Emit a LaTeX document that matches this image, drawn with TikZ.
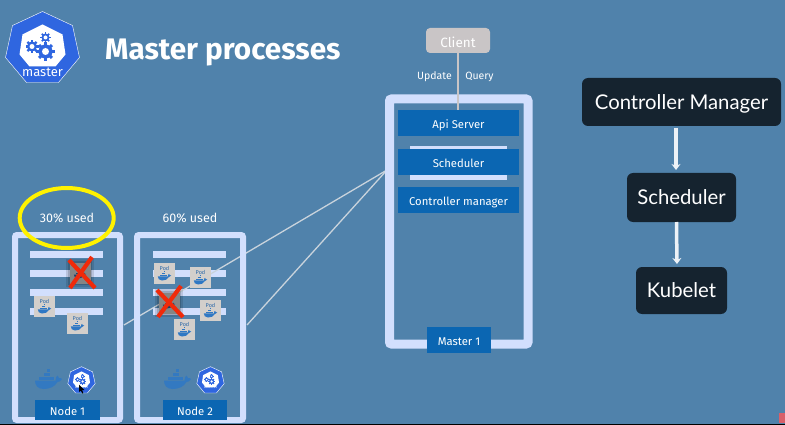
\documentclass[tikz,border=0pt]{standalone}
\usepackage{fontspec}
\setmainfont{Fira Sans}
\newfontfamily\gillfont{Lato}
\usetikzlibrary{arrows.meta,shapes.geometric}
\definecolor{bgblue}{HTML}{5082AB}
\definecolor{framecol}{HTML}{D2DFFD}
\definecolor{boxblue}{HTML}{0B66B2}
\definecolor{clientgrey}{HTML}{C9C5C6}
\definecolor{podgrey}{HTML}{D3CFCB}
\definecolor{darkbox}{HTML}{15232F}
\definecolor{kblue}{HTML}{2F66E0}
\definecolor{whaleblue}{HTML}{2F78C4}
\definecolor{linegrey}{HTML}{C9D3DC}
\definecolor{xred}{HTML}{F02A0A}
\definecolor{pinkmark}{HTML}{D9606A}
\newcommand{\gearat}[3]{%
  \foreach \a in {0,45,90,135}{\fill[kblue,shift={(#1,#2)},rotate=\a] (-.22*#3,-1.3*#3) rectangle (.22*#3,1.3*#3);}
  \fill[kblue] (#1,#2) circle (#3);
  \fill[white] (#1,#2) circle (.5*#3);}
\tikzset{
  x=1pt,y=-1pt,
  whale/.pic={
    \fill[pic actions] (-13.5,1.5) -- (7,1.5) .. controls (7,-1) and (8,-3) .. (9,-3.5)
      .. controls (10,-2) and (10.5,-1) .. (10.5,-.8) .. controls (11.5,-1.2) and (13,-1) .. (13.5,0)
      .. controls (12,2.5) and (10,3) .. (9,3) .. controls (6,8) and (1,10) .. (-5,10)
      .. controls (-11,10) and (-13.5,6) .. (-13.5,1.5) -- cycle;
    \fill[pic actions] (-9.5,-2) rectangle (5,1);
    \fill[pic actions] (-5,-6) rectangle (1.5,-2.6);
    \fill[pic actions] (-1.5,-10) rectangle (1.5,-6.6);
  },
  kube/.pic={
    \fill[kblue,draw=white,line width=.4pt] (0,-36) -- (30,-22) -- (37,10) -- (16,35) -- (-16,35) -- (-37,10) -- (-30,-22) -- cycle;
    \fill[white] (0,-23) -- (20,-13) -- (23,7) -- (13,19) -- (-13,19) -- (-23,7) -- (-20,-13) -- cycle;
    \gearat{3}{4}{7}
    \gearat{-10.5}{-1}{5}
    \gearat{3}{-10}{4}
  },
  podbox/.style={fill=podgrey,minimum width=21pt,minimum height=21pt,inner sep=0pt,outer sep=0pt},
  podlabel/.style={text=whaleblue!85!black,font=\fontsize{5.5}{6}\selectfont,inner sep=0pt},
  barline/.style={fill=framecol,draw=none},
  frameb/.style={draw=framecol,rounded corners=2pt,inner sep=0pt,outer sep=0pt,anchor=north west},
  bluebox/.style={fill=boxblue,text=white,inner sep=0pt,outer sep=0pt,text height=11pt,text depth=0pt,font=\fontsize{11.3}{13}\selectfont},
  smalltext/.style={text=white,inner sep=0pt,font=\fontsize{12.5}{14}\selectfont},
  darknode/.style={fill=darkbox,text=white,rounded corners=6pt,inner sep=0pt,outer sep=0pt,text depth=0pt,font=\gillfont\fontsize{20.3}{24}\selectfont},
  wire/.style={draw=linegrey,line width=1.3pt},
  cross/.style={draw=xred,line width=4.2pt},
  flowarrow/.style={draw=white!90!bgblue,line width=3.5pt,-{Stealth[length=6pt,width=9pt]}},
}
\begin{document}
\begin{tikzpicture}
\useasboundingbox (0,0) rectangle (785,425);
\fill[bgblue] (0,0) rectangle (785,425);
\fill[black] (0,424) rectangle (785,425);
\fill[pinkmark] (779,413) rectangle (785,423);

% logo and title
\pic at (42.5,47.5) {kube};
\node[text=white,inner sep=0pt,font=\fontsize{13}{14}\selectfont] (mastertext) at (42.5,72) {master};
\node[text=white,inner sep=0pt,anchor=west,font=\fontsize{29.7}{34}\selectfont\bfseries] (title) at (105,53) {Master processes};

% bars of the nodes
\foreach \bx in {30,153}{
  \foreach \by in {251,270,289,308}{
    \fill[barline] (\bx,\by) rectangle ++(73,7);
  }
}

% wires to the master
\coordinate (w1) at (124,325);
\coordinate (w2) at (247,325);
\coordinate (mtarget) at (387,170);
\draw[wire] (w1) -- (mtarget);
\draw[wire] (w2) -- (mtarget);

% worker frames
\node[frameb,line width=6pt,minimum width=105pt,minimum height=185pt] (node1frame) at (15,235) {};
\node[frameb,line width=6pt,minimum width=106pt,minimum height=185pt] (node2frame) at (137,235) {};
\node[bluebox,minimum width=65pt,minimum height=20pt] (node1) at (67.5,410) {Node 1};
\node[bluebox,minimum width=64pt,minimum height=20pt] (node2) at (195,410) {Node 2};

% usage labels
\node[smalltext] (used1) at (67,218) {30\% used};
\node[smalltext] (used2) at (190,218) {60\% used};
\node[draw=yellow,line width=4pt,shape=ellipse,minimum width=94pt,minimum height=60pt,inner sep=0pt] (highlight) at (66.7,218) {};

% pods
\foreach \n/\px/\py in {a/44.5/306.5,b/77.5/323.5,c/164.5/273.5,d/200.5/277.5,e/210.5/310.5,f/184.5/329.5}{
  \node[podbox] (pod\n) at (\px,\py) {};
  \node[podlabel] (podtext\n) at (\px,\py-5.5) {Pod};
  \pic[fill=whaleblue,scale=.5] at (\px,\py+2) {whale};
}

% failed pods
\foreach \n/\cx/\cy in {x/80/273,y/169/303}{
  \fill[black,opacity=.12] (\cx-14,\cy-14) rectangle (\cx+14,\cy+14);
  \fill[black,opacity=.15] (\cx-12,\cy-12) rectangle (\cx+12,\cy+12);
  \node[fill=black!48,minimum width=21pt,minimum height=21pt,inner sep=0pt] (pod\n) at (\cx,\cy) {};
  \pic[fill=whaleblue!55!black,scale=.45] at (\cx,\cy+1) {whale};
}
\draw[cross] (69,260) -- (95,288);
\draw[cross] (92,257) -- (70,288);
\draw[cross] (157,290) -- (183,317);
\draw[cross] (181,286) -- (158,317);

% docker and kubelet icons
\pic[fill=whaleblue!88!bgblue] at (48.5,379) {whale};
\pic[fill=whaleblue!88!bgblue] at (177.5,379) {whale};
\pic[scale=.37] at (81.5,380) {kube};
\pic[scale=.37] at (210.5,380) {kube};
\node[text=white,inner sep=0pt,font=\fontsize{3.8}{4}\selectfont] (kubelet1) at (81.5,387) {kubelet};
\node[text=white,inner sep=0pt,font=\fontsize{3.8}{4}\selectfont] (kubelet2) at (210.5,387) {kubelet};
\fill[black] (79,384.5) -- (79,392) -- (80.8,390.5) -- (82.3,393.5) -- (83.3,393) -- (82,390) -- (84.3,390) -- cycle;

% master
\node[frameb,line width=9pt,minimum width=138.5pt,minimum height=245pt] (masterframe) at (389.5,99) {};
\fill[barline] (410,146) rectangle (507,180);
\node[bluebox,minimum width=121pt,minimum height=26pt] (api) at (458.5,123) {Api Server};
\node[bluebox,minimum width=121pt,minimum height=26pt] (sched) at (458.5,162) {Scheduler};
\node[bluebox,minimum width=121pt,minimum height=26pt] (ctrl) at (458.5,200) {Controller manager};
\node[bluebox,minimum width=64pt,minimum height=26pt] (master1) at (459,340) {Master 1};

% client
\node[fill=clientgrey,text=white,rounded corners=4pt,minimum width=64pt,minimum height=25pt,inner sep=0pt,outer sep=0pt,text height=14pt,text depth=0pt,font=\fontsize{13.5}{15}\selectfont] (client) at (458,40.5) {Client};
\draw[draw=clientgrey,line width=1.8pt] (client.south) -- (client.south |- api.north);
\node[smalltext,font=\fontsize{10.5}{12}\selectfont] (update) at (434.5,77) {Update};
\node[smalltext,font=\fontsize{10.5}{12}\selectfont] (query) at (479.5,77) {Query};

% right-hand chain
\node[darknode,minimum width=199pt,minimum height=48pt] (cm) at (681.5,102) {Controller Manager};
\node[darknode,minimum width=109pt,minimum height=49pt] (sch) at (681.5,197.5) {Scheduler};
\node[darknode,minimum width=91pt,minimum height=47pt] (kub) at (681.5,290.5) {Kubelet};
\draw[flowarrow,shorten <=2pt,shorten >=3pt] ([xshift=-5.5pt]cm.south) -- ([xshift=-5.5pt]sch.north);
\draw[flowarrow,shorten >=3pt] ([xshift=-5pt]sch.south) -- ([xshift=-4.5pt]kub.north);
\end{tikzpicture}
\end{document}
